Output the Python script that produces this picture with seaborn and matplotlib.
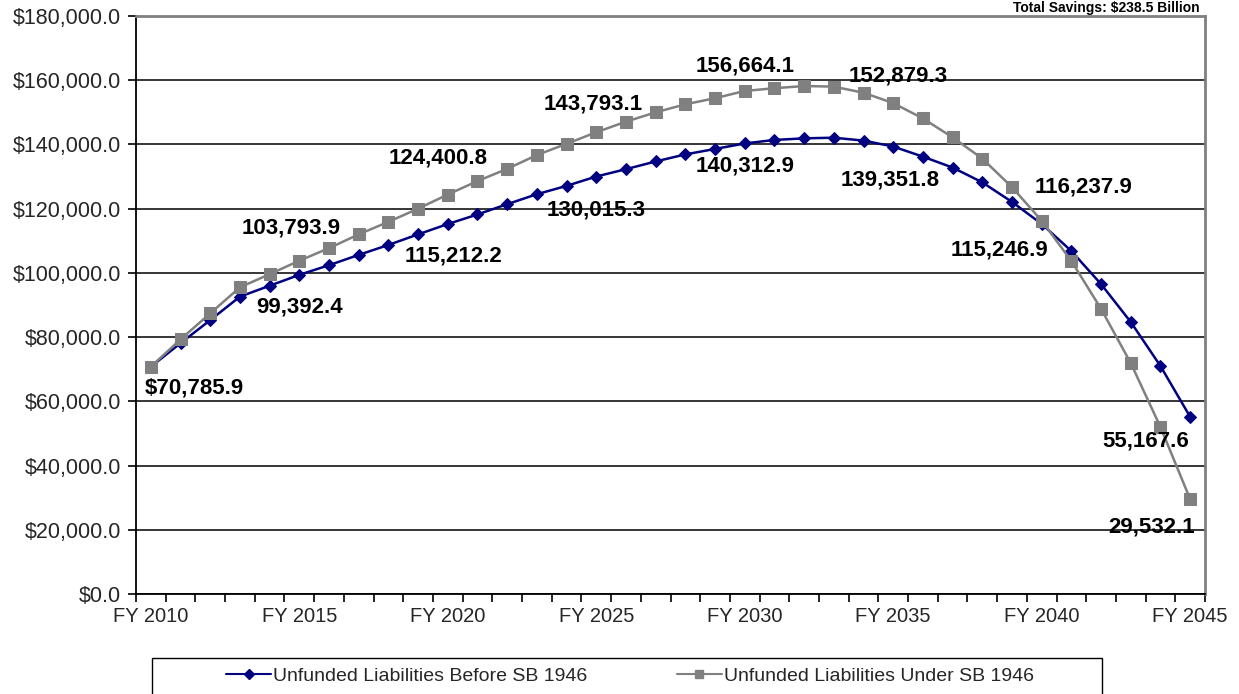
import matplotlib
matplotlib.use("Agg")
import matplotlib.pyplot as plt
import seaborn as sns
import pandas as pd
from matplotlib.patches import Rectangle
from matplotlib.lines import Line2D

years = list(range(2010, 2046))
before_sb1946 = [70785.9, 78100, 85300, 92600, 96000, 99392.4, 102400, 105600, 108700, 112000,
                 115212.2, 118200, 121400, 124500, 127100, 130015.3, 132300, 134700, 136900, 138600,
                 140312.9, 141400, 141900, 142100, 141200, 139351.8, 136200, 132800, 128200, 122100,
                 115246.9, 106800, 96500, 84700, 71000, 55167.6]
under_sb1946 = [70785.9, 79300, 87400, 95500, 99600, 103793.9, 107700, 112000, 115900, 120000,
                124400.8, 128600, 132400, 136700, 140200, 143793.1, 147100, 150000, 152500, 154400,
                156664.1, 157500, 158200, 158000, 156100, 152879.3, 148100, 142200, 135600, 126700,
                116237.9, 103700, 88800, 71900, 52000, 29532.1]
series_names = ["Unfunded Liabilities Before SB 1946", "Unfunded Liabilities Under SB 1946"]
tick_years = [2010, 2015, 2020, 2025, 2030, 2035, 2040, 2045]
y_ticks = [0, 20000, 40000, 60000, 80000, 100000, 120000, 140000, 160000, 180000]
savings_text = "Total Savings: $238.5 Billion"

# label offsets in pixels (layout only)
before_offsets = {2010: (-6, -21, "left"), 2015: (0, -32, "center"), 2020: (6, -32, "center"),
                  2025: (0, -33, "center"), 2030: (0, -23, "center"), 2035: (-3, -33, "center"),
                  2040: (-42, -26, "center"), 2045: (-44, -24, "center")}
under_offsets = {2015: (-8, 33, "center"), 2020: (-10, 37, "center"), 2025: (-3, 28, "center"),
                 2030: (0, 25, "center"), 2035: (5, 27, "center"), 2040: (42, 34, "center"),
                 2045: (-39, -28, "center")}

sns.set_theme(style="white")
plt.rcParams["font.family"] = ["Liberation Sans", "DejaVu Sans"]

idx = [y - years[0] for y in years]
df_b = pd.DataFrame({"idx": idx, "value": before_sb1946})
df_u = pd.DataFrame({"idx": idx, "value": under_sb1946})

fig = plt.figure(figsize=(12.39, 6.94), dpi=100)
ax = fig.add_axes([136 / 1239, 1 - 594 / 694, (1205 - 136) / 1239, (594 - 16) / 694])

blue = "#000080"
gray = "#808080"
sns.lineplot(data=df_b, x="idx", y="value", ax=ax, color=blue, marker="D", markersize=6.5,
             markeredgecolor=blue, linewidth=1.8, legend=False, zorder=3)
sns.lineplot(data=df_u, x="idx", y="value", ax=ax, color=gray, marker="s", markersize=9,
             markeredgecolor=gray, linewidth=1.8, legend=False, zorder=4)

ax.set_xlim(-0.5, len(years) - 0.5)
ax.set_ylim(0, 180000)
ax.set_yticks(y_ticks)
ax.set_yticklabels([f"${v:,.1f}" for v in y_ticks], fontsize=15.5)
ax.yaxis.grid(True, color="black", linewidth=1.1)
ax.set_axisbelow(True)

ax.set_xticks([i - 0.5 for i in range(len(years) + 1)], minor=True)
ax.set_xticks([y - years[0] for y in tick_years])
ax.set_xticklabels([f"FY {y}" for y in tick_years], fontsize=14.5)
ax.tick_params(axis="x", which="major", length=0, pad=9)
ax.tick_params(axis="x", which="minor", length=6, width=1.2, color="black", direction="out", bottom=True)
ax.tick_params(axis="y", which="major", length=6, width=1.2, color="black", direction="out", left=True, pad=5)
ax.set_xlabel("")
ax.set_ylabel("")

for s in ["left", "bottom"]:
    ax.spines[s].set_color("black")
    ax.spines[s].set_linewidth(1.3)
for s in ["top", "right"]:
    ax.spines[s].set_color("#808080")
    ax.spines[s].set_linewidth(2)

def add_labels(values, offsets):
    for yr, (dx, dy, ha) in offsets.items():
        v = values[yr - years[0]]
        txt = f"{v:,.1f}"
        if yr == years[0]:
            txt = "$" + txt
        ax.annotate(txt, xy=(yr - years[0], v), xytext=(dx, dy), textcoords="offset pixels",
                    ha=ha, va="center", fontsize=16, fontweight="bold", color="black",
                    zorder=6, annotation_clip=False)

add_labels(before_sb1946, before_offsets)
add_labels(under_sb1946, under_offsets)

fig.text(1200 / 1239, 1 - 1 / 694, savings_text, ha="right", va="top", fontsize=10,
         fontweight="bold", color="black")

fig.patches.append(Rectangle((152 / 1239, -0.05), (1102 - 152) / 1239, 0.05 + (694 - 658) / 694,
                             transform=fig.transFigure, fill=False, edgecolor="black",
                             linewidth=1.0))
handles = [Line2D([0], [0], color=blue, marker="D", markersize=5, linewidth=1.5),
           Line2D([0], [0], color=gray, marker="s", markersize=6, linewidth=1.5)]
fig.legend(handles, series_names, loc="center", bbox_to_anchor=(630 / 1239, 1 - 676 / 694),
           ncol=2, frameon=False, fontsize=14, handlelength=2.3, handletextpad=0.1,
           columnspacing=4.6)

fig.savefig("out.png", dpi=100)
